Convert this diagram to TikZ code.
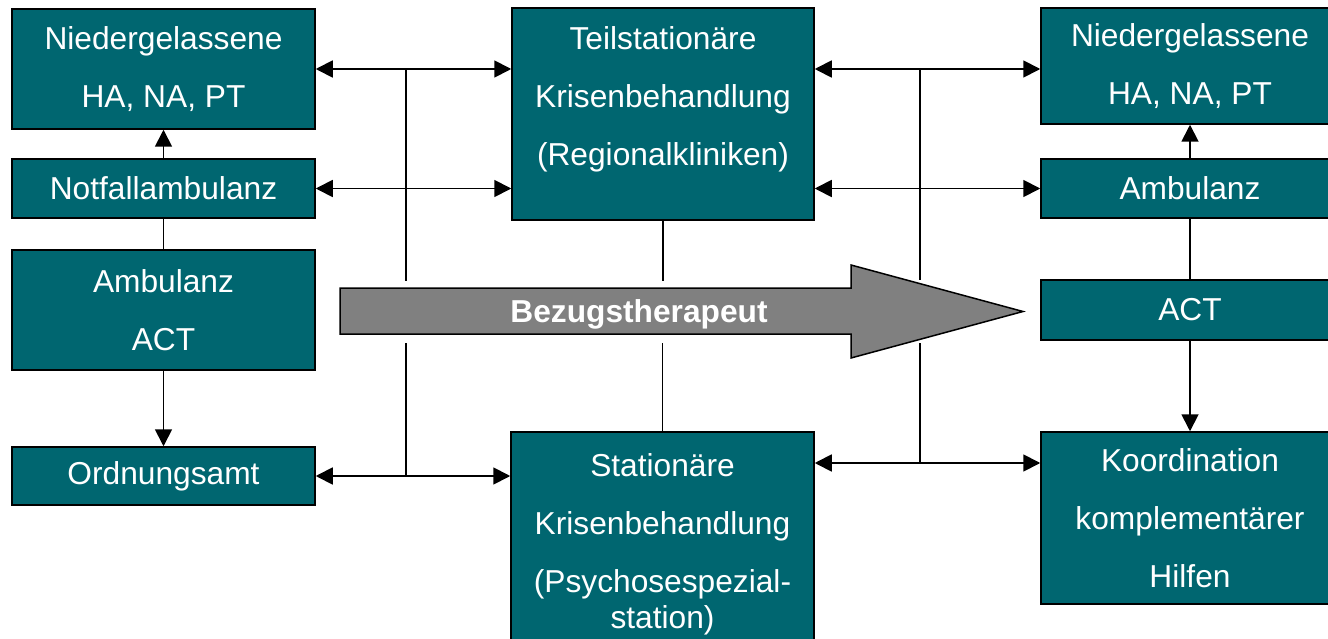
\documentclass[tikz,border=0pt]{standalone}
\usepackage{fontspec}
\setmainfont{Liberation Sans}
\usetikzlibrary{arrows.meta}
\definecolor{petrol}{RGB}{0,102,112}

\begin{document}
\begin{tikzpicture}[x=1pt,y=-1pt,
  box/.style={rectangle, draw=black, line width=1.5pt, fill=petrol, text=white, align=center,
    minimum width=303pt, inner sep=0pt, font=\fontsize{31.7}{58}\selectfont},
  plain/.style={line width=1.8pt},
  oneway/.style={plain, -{Triangle[length=17pt,width=17pt]}},
  twoway/.style={plain, {Triangle[length=17pt,width=17pt]}-{Triangle[length=17pt,width=17pt]}}]
\useasboundingbox (0,0) rectangle (1328,639);

\node[box, minimum height=120pt] (ln) at (163.5,69) {Niedergelassene\\HA, NA, PT};
\node[box, minimum height=59pt] (notf) at (163.5,188.5) {Notfallambulanz};
\node[box, minimum height=120pt] (amb) at (163.5,310) {Ambulanz\\ACT};
\node[box, minimum height=58pt] (ord) at (163.5,476) {Ordnungsamt};

\node[box, minimum width=302pt, minimum height=212pt, text depth=35pt] (teil) at (663,114)
  {Teilstationäre\\Krisenbehandlung\\(Regionalkliniken)};
\node[box, minimum height=225pt] (stat) at (662.5,544.5)
  {Stationäre\\Krisenbehandlung\\(Psychosespezial-\\[-22pt]station)};

\node[box, minimum width=298pt, minimum height=116pt] (rn) at (1190,66) {Niedergelassene\\HA, NA, PT};
\node[box, minimum width=298pt, minimum height=59pt] (ramb) at (1190,188.5) {Ambulanz};
\node[box, minimum width=298pt, minimum height=60pt] (ract) at (1190,310) {ACT};
\node[box, minimum width=298pt, minimum height=172pt] (koord) at (1190,518)
  {Koordination\\komplementärer\\Hilfen};

\coordinate (lt) at (406,281);
\coordinate (lb) at (406,343);
\coordinate (rt) at (920,280);
\coordinate (rb) at (920,343);
\coordinate (rj) at (920,463);

\draw[twoway] (ln.east) -- (ln.east -| teil.west);
\draw[twoway] (notf.east) -- (notf.east -| teil.west);
\draw[twoway] (ord.east) -- (ord.east -| stat.west);
\draw[twoway] (ln.east -| teil.east) -- (ln.east -| rn.west);
\draw[twoway] (notf.east -| teil.east) -- (notf.east -| ramb.west);
\draw[twoway] (rj -| stat.east) -- (rj -| koord.west);

\draw[plain] (lt |- ln.east) -- (lt);
\draw[plain] (lb) -- (lb |- ord.east);
\draw[plain] (teil.south) -- (teil.south |- lt);
\draw[plain] (stat.north) -- (stat.north |- lb);
\draw[plain] (rt |- ln.east) -- (rt);
\draw[plain] (rb) -- (rj);

\draw[oneway] (notf.north) -- (ln.south);
\draw[plain] (amb.north) -- (notf.south);
\draw[oneway] (amb.south) -- (ord.north);
\draw[oneway] (ramb.north) -- (rn.south);
\draw[plain] (ract.north) -- (ramb.south);
\draw[oneway] (ract.south) -- (koord.north);

\draw[line width=1.5pt, fill=gray] (340,288) -- (851,288) -- (851,265) -- (1023,311.5)
  -- (851,358) -- (851,334) -- (340,334) -- cycle;
\node[text=white, font=\fontsize{31.7}{38}\selectfont\bfseries] (bezug) at (639,314) {Bezugstherapeut};
\end{tikzpicture}
\end{document}
